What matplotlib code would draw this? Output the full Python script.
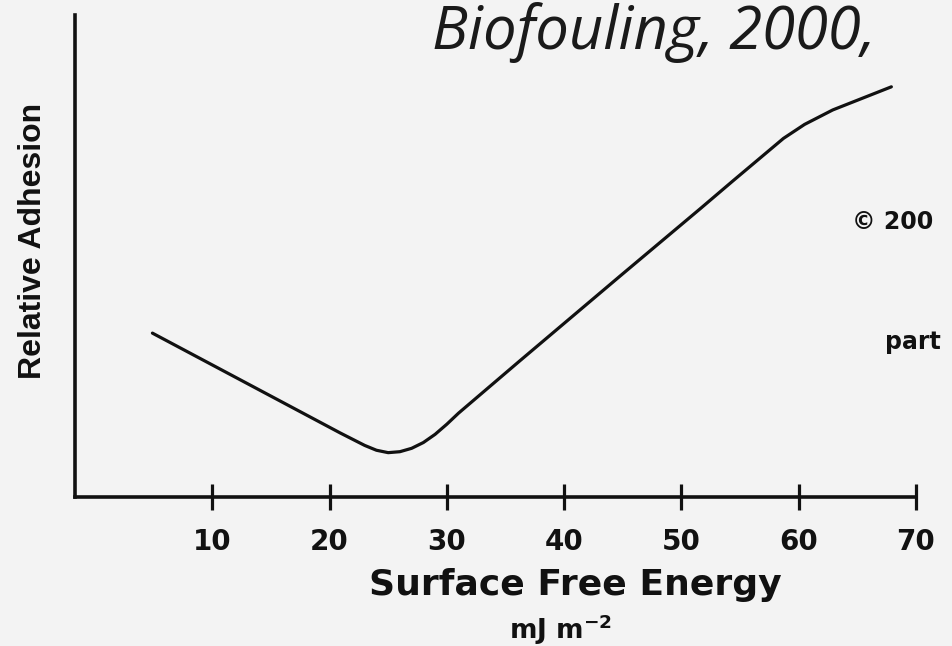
import matplotlib
matplotlib.use("Agg")
import matplotlib.pyplot as plt

# Data (surface free energy vs relative adhesion)
energy = [4.9, 12.4, 20.9, 23.0, 24.0, 25.0, 26.0, 27.0, 28.0, 29.0, 30.0, 31.0,
          36.2, 44.8, 51.6, 54.4, 58.7, 60.5, 62.9, 67.9]
adhesion = [34.0, 24.3, 13.3, 10.7, 9.7, 9.2, 9.4, 10.1, 11.3, 13.0, 15.1, 17.4,
            28.2, 45.9, 59.8, 65.6, 74.4, 77.3, 80.3, 85.1]
xticks = [10, 20, 30, 40, 50, 60, 70]
xticklabels = ["10", "20", "30", "40", "50", "60", "70"]

W, H = 952, 646
bg = "#f3f3f3"
fig = plt.figure(figsize=(W / 100, H / 100), dpi=100, facecolor=bg)
ax = fig.add_axes([75 / W, 149 / H, 841 / W, 482 / H])
ax.set_facecolor(bg)

ax.plot(energy, adhesion, color="#111111", lw=2.3, solid_capstyle="round", solid_joinstyle="round")

ax.set_xlim(-1.7, 70)
ax.set_ylim(0, 100)
for s in ["top", "right"]:
    ax.spines[s].set_visible(False)
for s in ["left", "bottom"]:
    ax.spines[s].set_linewidth(2.6)
    ax.spines[s].set_color("#111111")
    ax.spines[s].set_capstyle("projecting")

ax.set_xticks(xticks)
ax.set_xticklabels(xticklabels, fontsize=20, fontweight="bold", family="DejaVu Sans", color="#111111")
ax.tick_params(axis="x", direction="inout", length=19, width=2.3, pad=13, color="#111111")
ax.set_yticks([])

fig.text(575 / W, 1 - 585 / H, "Surface Free Energy", ha="center", va="center",
         fontsize=26, fontweight="bold", family="DejaVu Sans", color="#111111")
fig.text(560 / W, 1 - 630 / H, r"mJ m$^{\mathbf{-2}}$", ha="center", va="center",
         fontsize=19, fontweight="bold", family="DejaVu Sans", color="#111111")

fig.text(33 / W, 1 - 241 / H, "Relative Adhesion", rotation=90, ha="center", va="center",
         fontsize=23, fontweight="bold", family=["Liberation Sans", "DejaVu Sans"], color="#111111")

fig.text(432 / W, 1 - 49 / H, "Biofouling, 2000,", ha="left", va="baseline",
         fontsize=43, style="italic", family=["Open Sans", "DejaVu Sans"], color="#1a1a1a")

fig.text(852 / W, 1 - 222 / H, "\u00a9 200", ha="left", va="center",
         fontsize=17, fontweight="bold", family="DejaVu Sans", color="#111111")
fig.text(885 / W, 1 - 342 / H, "part", ha="left", va="center",
         fontsize=17, fontweight="bold", family="DejaVu Sans", color="#111111")

fig.savefig("out.png", dpi=100, facecolor=bg)
